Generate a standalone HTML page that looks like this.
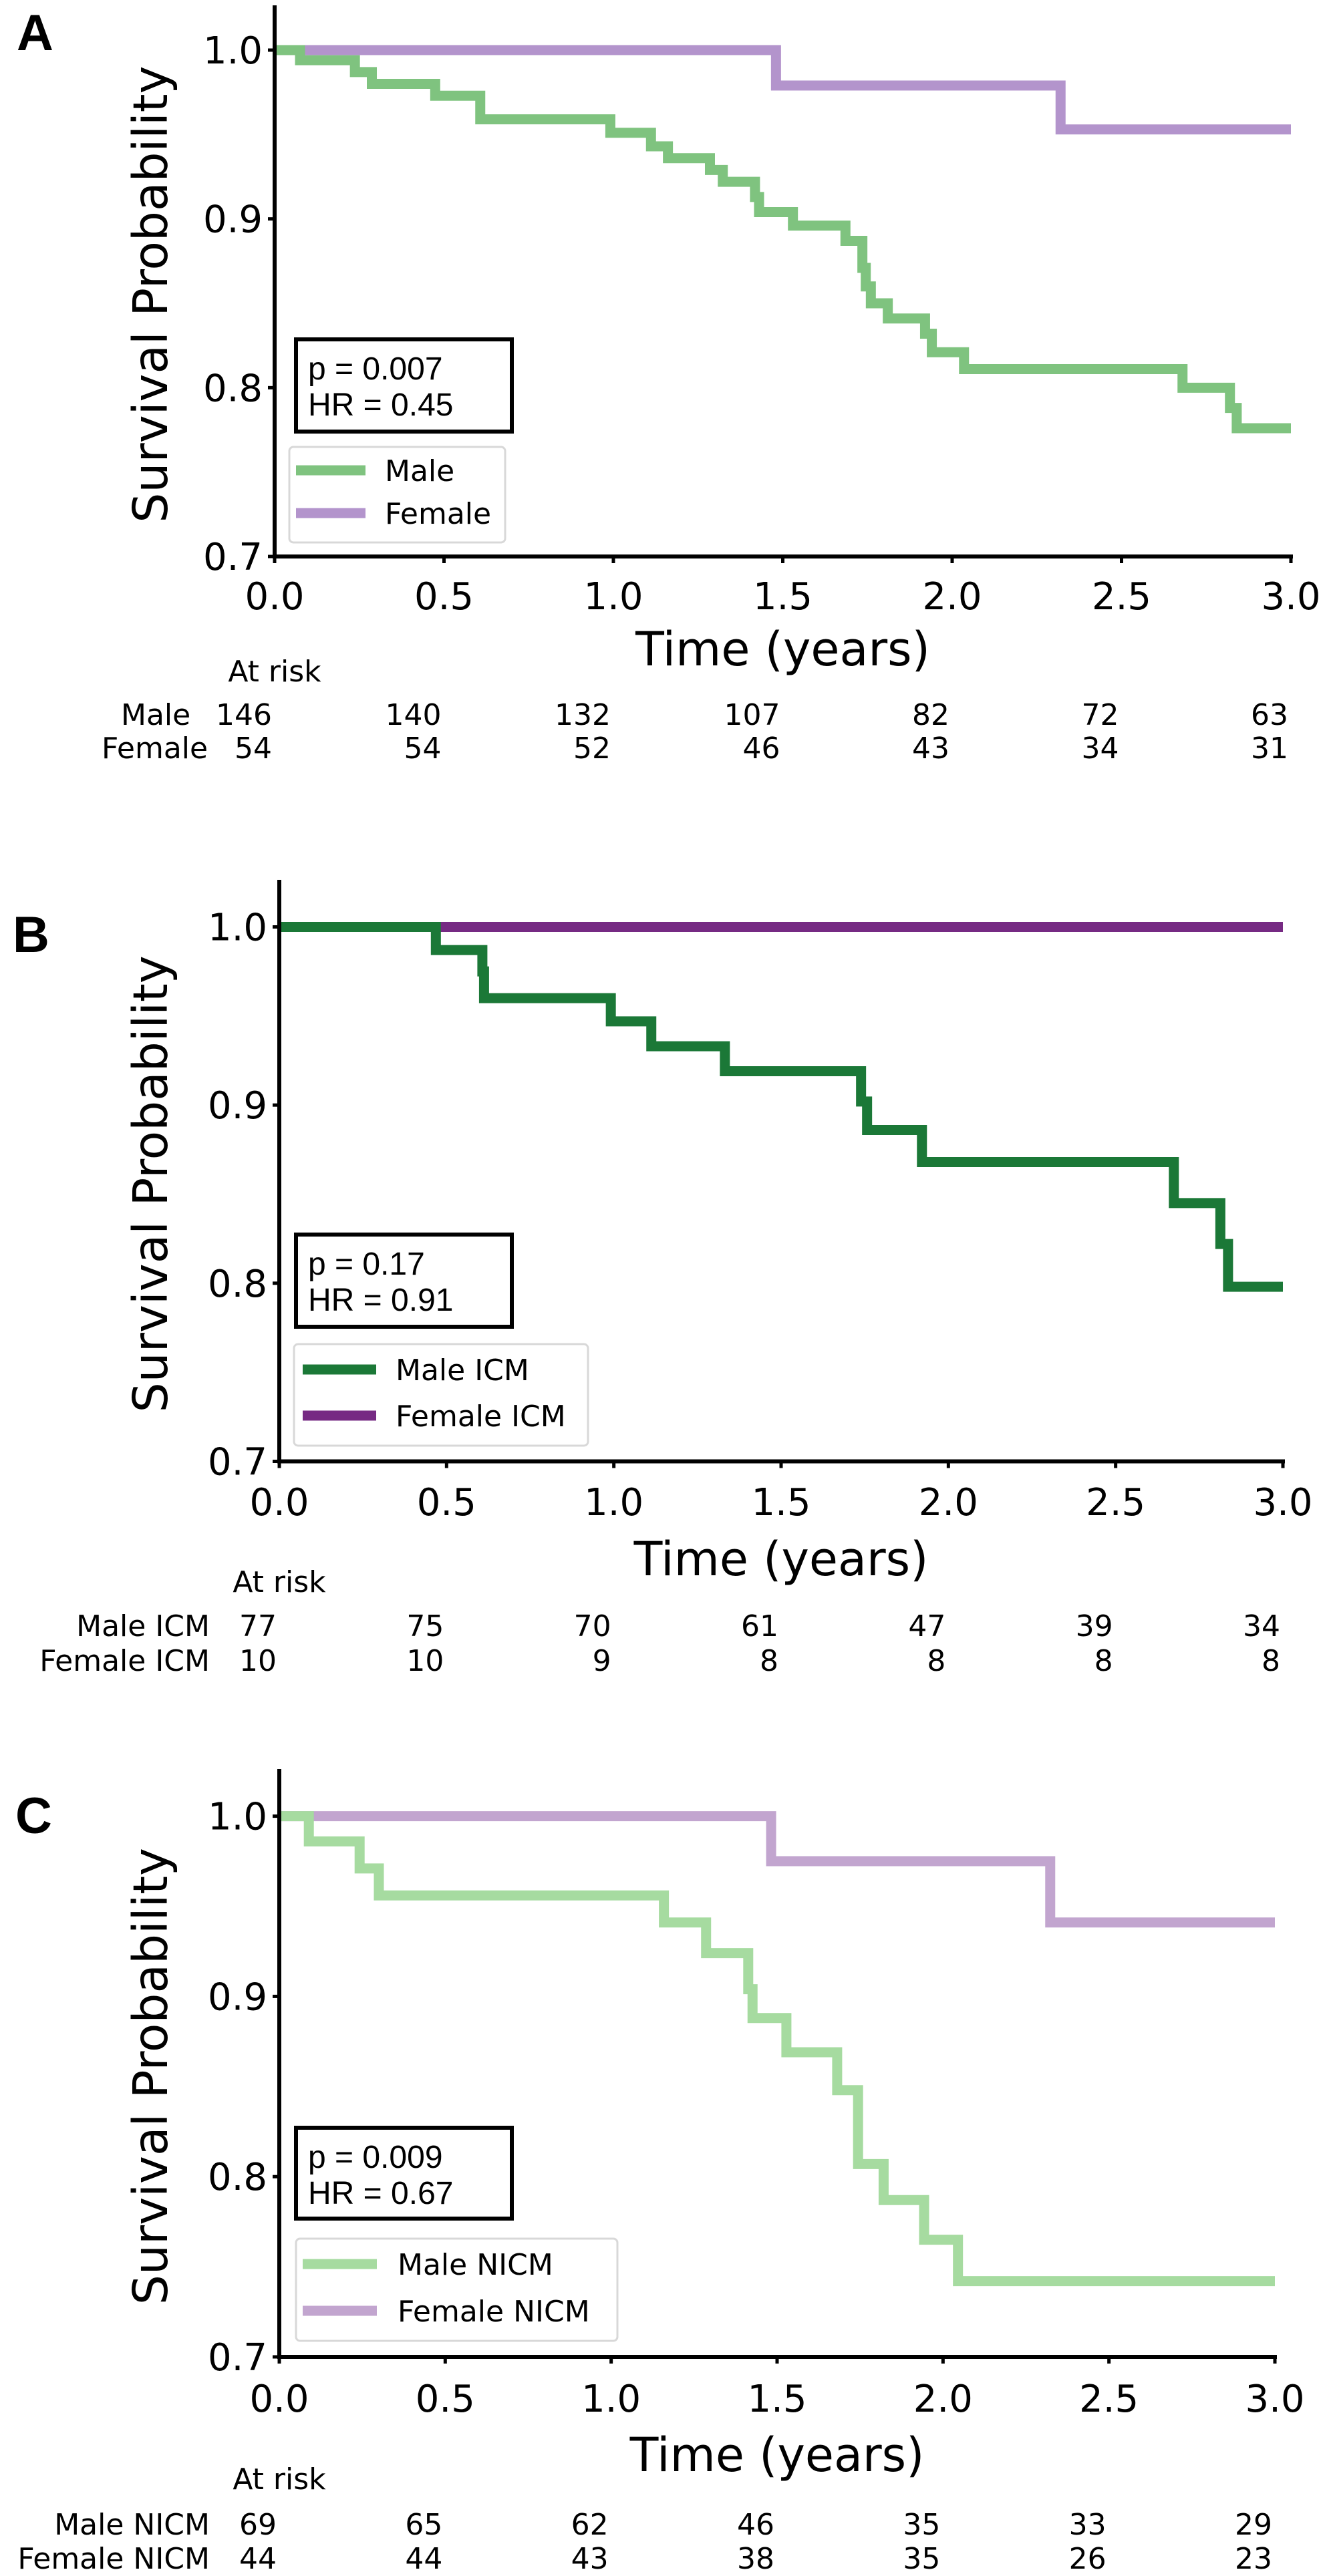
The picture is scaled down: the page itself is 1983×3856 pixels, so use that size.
<!DOCTYPE html>
<html><head><meta charset="utf-8"><style>
html,body{margin:0;padding:0;background:#fff;}
svg{display:block;}
text{font-family:"DejaVu Sans","Liberation Sans",sans-serif;fill:#000;}
</style></head><body>
<svg id="fig" width="1983" height="3856" viewBox="0 0 1983 3856" xmlns="http://www.w3.org/2000/svg"></svg>
<script>
// ---------- data ----------
const xTicks = [0, 0.5, 1.0, 1.5, 2.0, 2.5, 3.0];
const xTickLabels = ["0.0","0.5","1.0","1.5","2.0","2.5","3.0"];
const yTicks = [0.7, 0.8, 0.9, 1.0];
const yTickLabels = ["0.7","0.8","0.9","1.0"];

const aMaleTimes = [0.075,0.237,0.287,0.474,0.607,0.991,1.111,1.161,1.285,1.323,1.418,1.43,1.53,1.685,1.735,1.745,1.76,1.81,1.92,1.94,2.035,2.68,2.82,2.84];
const aMaleSurv  = [0.994,0.987,0.980,0.973,0.959,0.951,0.943,0.936,0.929,0.922,0.913,0.904,0.896,0.887,0.871,0.860,0.850,0.841,0.832,0.821,0.811,0.800,0.788,0.776];
const aFemaleTimes = [1.48,2.32];
const aFemaleSurv  = [0.979,0.953];
const aMaleRisk = [146,140,132,107,82,72,63];
const aFemaleRisk = [54,54,52,46,43,34,31];

const bMaleTimes = [0.468,0.607,0.612,0.991,1.112,1.332,1.739,1.757,1.921,2.674,2.813,2.836];
const bMaleSurv  = [0.987,0.975,0.960,0.947,0.933,0.919,0.902,0.886,0.868,0.845,0.822,0.798];
const bFemaleTimes = [];
const bFemaleSurv  = [];
const bMaleRisk = [77,75,70,61,47,39,34];
const bFemaleRisk = [10,10,9,8,8,8,8];

const cMaleTimes = [0.089,0.242,0.30,1.159,1.286,1.413,1.426,1.528,1.681,1.744,1.821,1.943,2.045];
const cMaleSurv  = [0.986,0.971,0.956,0.941,0.924,0.904,0.888,0.869,0.848,0.807,0.787,0.765,0.742];
const cFemaleTimes = [1.482,2.323];
const cFemaleSurv  = [0.975,0.941];
const cMaleRisk = [69,65,62,46,35,33,29];
const cFemaleRisk = [44,44,43,38,35,26,23];

// ---------- layout ----------
const NS = "http://www.w3.org/2000/svg";
const svg = document.getElementById("fig");
function mk(tag, parent, attrs){
  const e = document.createElementNS(NS, tag);
  for (const k in attrs) e.setAttribute(k, attrs[k]);
  parent.appendChild(e);
  return e;
}
function txt(parent, s, attrs){ const t = mk("text", parent, attrs); t.textContent = s; return t; }

const panels = [
  {id:"a", letter:"A", lx:25, ly:75, x0:411, x3:1932, y1:75, y07:833, top:8,
   tickY:912, timeY:996, riskHdrY:1020, row1Y:1085, row2Y:1135,
   row1Label:"Male", row2Label:"Female", row1X:181, row2X:152, rowAnchor:"start",
   p:"p = 0.007", hr:"HR = 0.45", pbox:[443,508,323,138],
   leg:[433,669,323,143], legLineX:[443,547], legY:[704,768], legTextX:576,
   maleT:aMaleTimes, maleS:aMaleSurv, femT:aFemaleTimes, femS:aFemaleSurv,
   maleR:aMaleRisk, femR:aFemaleRisk, maleC:"#7fc37f", femC:"#b394cc",
   maleName:"Male", femName:"Female"},
  {id:"b", letter:"B", lx:19, ly:1425, x0:418, x3:1920, y1:1387.5, y07:2187.5, top:1317,
   tickY:2268, timeY:2358, riskHdrY:2383, row1Y:2449, row2Y:2501,
   row1Label:"Male ICM", row2Label:"Female ICM", row1X:314, row2X:314, rowAnchor:"end",
   p:"p = 0.17", hr:"HR = 0.91", pbox:[443,1848,323,138],
   leg:[440,2012,440,152], legLineX:[453,563], legY:[2050,2119], legTextX:592,
   maleT:bMaleTimes, maleS:bMaleSurv, femT:bFemaleTimes, femS:bFemaleSurv,
   maleR:bMaleRisk, femR:bFemaleRisk, maleC:"#1b7837", femC:"#762a83",
   maleName:"Male ICM", femName:"Female ICM"},
  {id:"c", letter:"C", lx:23, ly:2744, x0:418, x3:1908, y1:2718.6, y07:3528, top:2648,
   tickY:3610, timeY:3699, riskHdrY:3726, row1Y:3794, row2Y:3845,
   row1Label:"Male NICM", row2Label:"Female NICM", row1X:314, row2X:314, rowAnchor:"end",
   p:"p = 0.009", hr:"HR = 0.67", pbox:[443,3185,323,136],
   leg:[443,3351,481,153], legLineX:[453,564], legY:[3389,3459], legTextX:595,
   maleT:cMaleTimes, maleS:cMaleSurv, femT:cFemaleTimes, femS:cFemaleSurv,
   maleR:cMaleRisk, femR:cFemaleRisk, maleC:"#a6dba0", femC:"#c2a5cf",
   maleName:"Male NICM", femName:"Female NICM"}
];

function stepPath(times, surv, X, Y){
  let d = "M" + X(0) + "," + Y(1);
  for (let i = 0; i < times.length; i++){
    d += " H" + X(times[i]) + " V" + Y(surv[i]);
  }
  d += " H" + X(3);
  return d;
}

panels.forEach(P => {
  const g = mk("g", svg, {});
  
  
  const X = t => P.x0 + (t / 3) * (P.x3 - P.x0);
  const Y = v => P.y07 - ((v - 0.7) / 0.3) * (P.y07 - P.y1);

  const lab = txt(g, P.letter, {x:P.lx, y:P.ly, "font-size":76, "font-weight":"bold", style:"font-family:'Liberation Sans',sans-serif"});
  
  

  // curves
  const fem = mk("path", g, {d:stepPath(P.femT, P.femS, X, Y), fill:"none", stroke:P.femC, "stroke-width":15});
  
  
  const male = mk("path", g, {d:stepPath(P.maleT, P.maleS, X, Y), fill:"none", stroke:P.maleC, "stroke-width":15});
  
  

  // axes
  const ya = mk("line", g, {x1:P.x0, y1:P.top, x2:P.x0, y2:P.y07+3, stroke:"#000", "stroke-width":6});
  
  
  const xa = mk("line", g, {x1:P.x0-3, y1:P.y07, x2:P.x3+3, y2:P.y07, stroke:"#000", "stroke-width":6});
  
  

  yTicks.forEach((v, i) => {
    const tk = mk("line", g, {x1:P.x0-10, y1:Y(v), x2:P.x0, y2:Y(v), stroke:"#000", "stroke-width":5});
    
    
    const tl = txt(g, yTickLabels[i], {x:P.x0-18, y:Y(v)+20, "text-anchor":"end", "font-size":56});
    
    
  });
  xTicks.forEach((t, i) => {
    const tk = mk("line", g, {x1:X(t), y1:P.y07, x2:X(t), y2:P.y07+10, stroke:"#000", "stroke-width":5});
    
    
    const tl = txt(g, xTickLabels[i], {x:X(t), y:P.tickY, "text-anchor":"middle", "font-size":56});
    
    
  });

  const ymid = (P.top + P.y07) / 2 + 20;
  const yl = txt(g, "Survival Probability", {x:0, y:0, "text-anchor":"middle", "font-size":71,
    transform:"translate(250," + ymid + ") rotate(-90)"});
  
  
  const xl = txt(g, "Time (years)", {x:(P.x0+P.x3)/2, y:P.timeY, "text-anchor":"middle", "font-size":70});
  
  

  // p-value box
  const pb = mk("rect", g, {x:P.pbox[0], y:P.pbox[1], width:P.pbox[2], height:P.pbox[3], fill:"#fff", stroke:"#000", "stroke-width":6});
  
  
  const pt = txt(g, P.p, {x:P.pbox[0]+18, y:P.pbox[1]+60, "font-size":48, style:"font-family:'Liberation Sans',sans-serif"});
  
  
  const ht = txt(g, P.hr, {x:P.pbox[0]+18, y:P.pbox[1]+114, "font-size":48, style:"font-family:'Liberation Sans',sans-serif"});
  
  

  // legend
  const lg = mk("rect", g, {x:P.leg[0], y:P.leg[1], width:P.leg[2], height:P.leg[3], rx:6, fill:"#fff", stroke:"#d8d8d8", "stroke-width":3});
  
  
  [[P.maleC, P.maleName, P.legY[0]], [P.femC, P.femName, P.legY[1]]].forEach((e, i) => {
    const ln = mk("line", g, {x1:P.legLineX[0], y1:e[2], x2:P.legLineX[1], y2:e[2], stroke:e[0], "stroke-width":15});
    
    
    const lt = txt(g, e[1], {x:P.legTextX, y:e[2]+16, "font-size":44});
    
    
  });

  // at risk table
  const ar = txt(g, "At risk", {x:P.x0, y:P.riskHdrY, "text-anchor":"middle", "font-size":44});
  
  
  [[P.row1Label, P.row1X, P.row1Y, P.maleR], [P.row2Label, P.row2X, P.row2Y, P.femR]].forEach(r => {
    const rl = txt(g, r[0], {x:r[1], y:r[2], "text-anchor":P.rowAnchor, "font-size":44});
    
    
    r[3].forEach((n, i) => {
      const c = txt(g, String(n), {x:X(xTicks[i]) - 4, y:r[2], "text-anchor":"end", "font-size":44});
      
      
    });
  });
});
</script>
</body></html>
